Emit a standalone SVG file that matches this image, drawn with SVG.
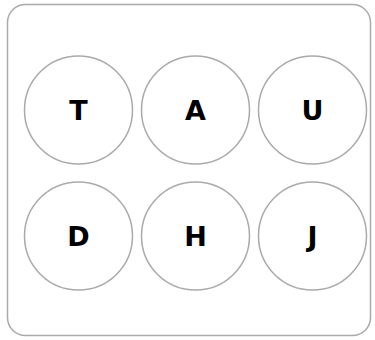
<svg xmlns="http://www.w3.org/2000/svg" width="375" height="340" viewBox="0 0 375 340">
<style>
.frame{fill:#fff;stroke:#aaa;stroke-width:1.5}
.n circle{fill:#fff;stroke:#aaa;stroke-width:1.5}
.n text{font-family:"DejaVu Sans",sans-serif;font-weight:bold;font-size:27px;fill:#000;text-anchor:middle}
</style>
<rect class="frame" x="7.5" y="4.5" width="363" height="331" rx="18"/>
<g id="connectors"/>
<g id="T" class="n"><circle cx="78.5" cy="110" r="54"/><text x="78.5" y="120">T</text></g>
<g id="A" class="n"><circle cx="195.5" cy="110" r="54"/><text x="195.5" y="120">A</text></g>
<g id="U" class="n"><circle cx="312.5" cy="110" r="54"/><text x="312.5" y="120">U</text></g>
<g id="D" class="n"><circle cx="78.5" cy="236" r="54"/><text x="78.5" y="246">D</text></g>
<g id="H" class="n"><circle cx="195.5" cy="236" r="54"/><text x="195.5" y="246">H</text></g>
<g id="J" class="n"><circle cx="312.5" cy="236" r="54"/><text x="312.5" y="246">J</text></g>
</svg>
